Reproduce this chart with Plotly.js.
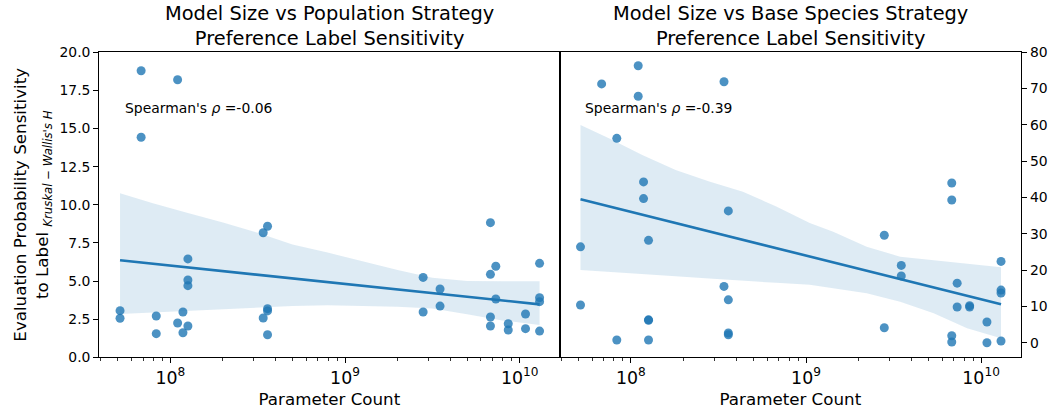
<!DOCTYPE html>
<html>
<head>
<meta charset="utf-8">
<script src="https://cdn.plot.ly/plotly-3.0.1.min.js"></script>
<style>html,body{margin:0;padding:0;background:#fff;}#chart{width:1055px;height:412px;}</style>
</head>
<body>
<div id="chart"></div>
<script>
// ---- Data ----
const popParams = [5.15e7,5.15e7, 6.8e7,6.8e7, 8.3e7,8.3e7, 1.1e8,1.1e8, 1.18e8,1.18e8,
  1.26e8,1.26e8,1.26e8,1.26e8, 3.4e8,3.4e8, 3.6e8,3.6e8,3.6e8,3.6e8,
  2.8e9,2.8e9, 3.5e9,3.5e9, 6.8e9,6.8e9,6.8e9,6.8e9, 7.3e9,7.3e9, 8.6e9,8.6e9,
  1.08e10,1.08e10, 1.3e10,1.3e10,1.3e10,1.3e10];
const popSens = [3.06,2.56, 18.79,14.43, 2.71,1.55, 18.2,2.25, 2.97,1.61,
  6.45,5.07,4.70,2.05, 8.17,2.58, 8.59,3.19,3.04,1.48,
  5.24,2.97, 4.48,3.36, 8.83,5.44,2.64,2.05, 5.97,3.82, 2.20,1.79,
  2.84,1.88, 6.16,3.91,3.65,1.72];

const baseParams = [5.15e7,5.15e7, 6.8e7, 8.3e7,8.3e7, 1.1e8,1.1e8, 1.18e8,1.18e8,
  1.26e8,1.26e8,1.26e8,1.26e8, 3.4e8,3.4e8, 3.6e8,3.6e8,3.6e8,3.6e8,
  2.8e9,2.8e9, 3.5e9,3.5e9, 6.8e9,6.8e9,6.8e9,6.8e9, 7.3e9,7.3e9, 8.6e9,8.6e9,
  1.08e10,1.08e10, 1.3e10,1.3e10,1.3e10,1.3e10];
const baseSens = [26.4,10.4, 71.3, 56.3,0.74, 76.3,67.9, 44.3,39.7,
  28.2,6.3,6.2,0.74, 71.9,15.5, 36.3,11.8,2.67,2.2,
  29.6,4.13, 21.3,18.4, 44.0,39.3,1.93,0.2, 16.4,9.83, 10.2,9.83,
  5.7,0.0, 22.4,14.5,13.7,0.47];

// regression fit line (end points) and confidence band
const fitParams = [5.15e7, 1.3e10];
const popFit = [6.36, 3.47];
const baseFit = [39.5, 10.6];

const popBandParams = [5.15e7, 7.94e7, 1.26e8, 2.0e8, 3.16e8, 5.0e8, 7.94e8, 1.26e9, 2.0e9, 3.16e9, 5.0e9, 7.94e9, 1.3e10];
const popBandHi = [10.75, 10.1, 9.46, 8.84, 8.16, 7.4, 6.87, 6.28, 5.72, 5.22, 5.01, 4.98, 4.98];
const popBandLo = [2.84, 2.93, 3.05, 3.15, 3.26, 3.36, 3.42, 3.38, 3.32, 3.2, 2.82, 2.42, 2.12];

const baseBandParams = [5.15e7, 7.48e7, 1.16e8, 1.8e8, 2.8e8, 4.36e8, 6.76e8, 1.05e9, 1.43e9, 2.22e9, 3.45e9, 5.36e9, 8.32e9, 1.3e10];
const baseBandHi = [60, 56.3, 51.7, 47.6, 44.4, 41.6, 37.5, 33.0, 30.6, 26.4, 23.7, 22.8, 21.7, 20.8];
const baseBandLo = [20.0, 19.5, 18.9, 18.3, 17.7, 17.0, 16.5, 16.0, 15.0, 13.6, 11.3, 8.1, 4.0, 1.2];

const titles = ["Model Size vs Population Strategy<br>Preference Label Sensitivity",
                "Model Size vs Base Species Strategy<br>Preference Label Sensitivity"];
const rhoLabels = ["Spearman's <i>ρ</i> =-0.06", "Spearman's <i>ρ</i> =-0.39"];
const rhoPos = [[5.33e7, 16.33], [5.31e7, 64.6]];

// minor tick positions: 2..9 x 10^n
const minorTicks = [];
for (let e = 7; e <= 10; e++) for (let m = 2; m <= 9; m++) minorTicks.push(m * Math.pow(10, e));

// ---- Build ----
const BLUE = '#1f77b4';
const FONT = 'DejaVu Sans, sans-serif';
const XRANGE = [7.593, 10.228];

function panel(xs, ys, bx, hi, lo, fit, xa, ya) {
  return [
    {type:'scatter', mode:'markers', x:xs, y:ys, xaxis:xa, yaxis:ya,
     marker:{color:BLUE, opacity:0.8, size:9, line:{width:0}}, hoverinfo:'skip', showlegend:false},
    {type:'scatter', mode:'lines', x:fitParams, y:fit, xaxis:xa, yaxis:ya,
     line:{color:BLUE, width:2.6}, hoverinfo:'skip', showlegend:false},
    {type:'scatter', mode:'lines', x:bx.concat(bx.slice().reverse()), y:hi.concat(lo.slice().reverse()),
     xaxis:xa, yaxis:ya, fill:'toself', fillcolor:'rgba(31,119,180,0.15)', line:{width:0},
     hoverinfo:'skip', showlegend:false}
  ];
}

const data = [].concat(
  panel(popParams, popSens, popBandParams, popBandHi, popBandLo, popFit, 'x', 'y'),
  panel(baseParams, baseSens, baseBandParams, baseBandHi, baseBandLo, baseFit, 'x2', 'y2'),
  [
    {type:'scatter', mode:'markers', x:[], y:[], xaxis:'x3', yaxis:'y', hoverinfo:'skip', showlegend:false},
    {type:'scatter', mode:'markers', x:[], y:[], xaxis:'x4', yaxis:'y2', hoverinfo:'skip', showlegend:false}
  ]
);

const W = 1055, H = 412;
const d1 = [99.3/W, 559.5/W], d2 = [559.7/W, 1021/W];
const yd = [(H-357.3)/H, (H-52.3)/H];

function xaxisDef(domain, anchor) {
  return {
    domain: domain, anchor: anchor, type:'log', range:XRANGE,
    tickmode:'linear', tick0:0, dtick: 1, exponentformat:'power', showexponent:'all',
    showline:true, mirror:true, linecolor:'#000', linewidth:1.1,
    ticks:'outside', ticklen:5, tickwidth:1, tickcolor:'#000',
    showgrid:false, zeroline:false, automargin:false,
    tickfont:{family:FONT, size:13.9, color:'#000'},
    title:{text:'Parameter Count', font:{family:FONT, size:16.7, color:'#000'}, standoff:6}
  };
}
function minorAxis(over, anchor) {
  return {
    overlaying: over, anchor: anchor, side:'bottom', type:'log', range:XRANGE,
    tickmode:'array', tickvals:minorTicks, showticklabels:false,
    ticks:'outside', ticklen:2.8, tickwidth:0.8, tickcolor:'#000',
    showline:false, showgrid:false, zeroline:false, automargin:false
  };
}

const layout = {
  width: W, height: H,
  margin:{l:0, r:0, t:0, b:0},
  paper_bgcolor:'#fff', plot_bgcolor:'#fff',
  font:{family:FONT, color:'#000'},
  showlegend:false,
  xaxis: xaxisDef(d1, 'y'),
  xaxis2: xaxisDef(d2, 'y2'),
  xaxis3: minorAxis('x', 'y'),
  xaxis4: minorAxis('x2', 'y2'),
  yaxis: {
    domain: yd, anchor:'x', range:[0, 20], dtick:2.5, tick0:0, tickformat:'.1f',
    showline:true, mirror:true, linecolor:'#000', linewidth:1.1,
    ticks:'outside', ticklen:5, tickwidth:1, tickcolor:'#000',
    showgrid:false, zeroline:false, automargin:false,
    tickfont:{family:FONT, size:13.9, color:'#000'},
    title:{text:"Evaluation Probability Sensitivity<br>to Label <sub><i>Kruskal − Wallis's H</i></sub>",
           font:{family:FONT, size:16.7, color:'#000'}, standoff:6}
  },
  yaxis2: {
    domain: yd, anchor:'x2', side:'right', range:[-4.02, 80], dtick:10, tick0:0,
    showline:true, mirror:true, linecolor:'#000', linewidth:1.1,
    ticks:'outside', ticklen:5, tickwidth:1, tickcolor:'#000',
    showgrid:false, zeroline:false, automargin:false,
    tickfont:{family:FONT, size:13.9, color:'#000'}
  },
  annotations: [
    {text:titles[0], xref:'paper', yref:'paper', x:(d1[0]+d1[1])/2, y:(H-52)/H, xanchor:'center', yanchor:'bottom',
     showarrow:false, font:{family:FONT, size:19.4, color:'#000'}},
    {text:titles[1], xref:'paper', yref:'paper', x:(d2[0]+d2[1])/2, y:(H-52)/H, xanchor:'center', yanchor:'bottom',
     showarrow:false, font:{family:FONT, size:19.4, color:'#000'}},
    {text:rhoLabels[0], xref:'x', yref:'y', x:Math.log10(rhoPos[0][0]), y:rhoPos[0][1], xanchor:'left', yanchor:'middle',
     showarrow:false, font:{family:FONT, size:13.9, color:'#000'}},
    {text:rhoLabels[1], xref:'x2', yref:'y2', x:Math.log10(rhoPos[1][0]), y:rhoPos[1][1], xanchor:'left', yanchor:'middle',
     showarrow:false, font:{family:FONT, size:13.9, color:'#000'}}
  ]
};

Plotly.newPlot('chart', data, layout, {staticPlot:true, displayModeBar:false});
</script>
</body>
</html>
